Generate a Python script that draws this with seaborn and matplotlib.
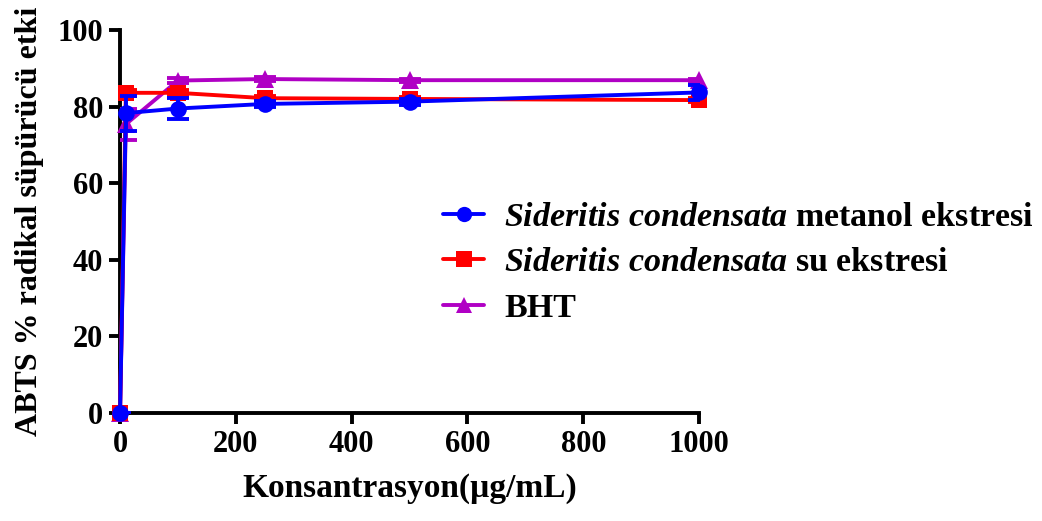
import matplotlib
matplotlib.use("Agg")
import matplotlib.pyplot as plt
import seaborn as sns
import pandas as pd
from matplotlib.lines import Line2D

# Concentrations (µg/mL) and ABTS scavenging (%) with error bars
konsantrasyon = [0, 10, 100, 250, 500, 1000]
metanol = [0, 78.3, 79.5, 80.7, 81.3, 83.7]
metanol_err = [0, 4.6, 2.8, 0.8, 0.8, 2.0]
su = [0, 83.6, 83.6, 82.2, 82.0, 81.7]
su_err = [0, 0.8, 0.8, 0.6, 0.5, 0.6]
bht = [0, 75.4, 86.8, 87.2, 86.9, 86.9]
bht_err = [0, 4.0, 0.6, 0.5, 0.4, 0.4]

labels = [r"$\mathit{Sideritis\ condensata}$ metanol ekstresi",
          r"$\mathit{Sideritis\ condensata}$ su ekstresi",
          "BHT"]
colors = ["#0000FF", "#FF0000", "#B000C4"]
markers = ["o", "s", "^"]
x_ticks = [0, 200, 400, 600, 800, 1000]
y_ticks = [0, 20, 40, 60, 80, 100]

sns.set_style("ticks")
plt.rcParams["font.family"] = ["Liberation Serif", "DejaVu Serif"]
plt.rcParams["font.weight"] = "bold"
plt.rcParams["text.color"] = "black"
plt.rcParams["axes.labelcolor"] = "black"
plt.rcParams["xtick.color"] = "black"
plt.rcParams["ytick.color"] = "black"
plt.rcParams["axes.edgecolor"] = "black"
plt.rcParams["mathtext.fontset"] = "custom"
plt.rcParams["mathtext.it"] = "Liberation Serif:italic:bold"
plt.rcParams["mathtext.rm"] = "Liberation Serif:bold"

fig = plt.figure(figsize=(10.42, 5.21), dpi=100)
ax = fig.add_axes([0.1152, 0.2073, 0.5557, 0.7351])

series = [(metanol, metanol_err), (su, su_err), (bht, bht_err)]
frames = []
for lab, (vals, errs) in zip(labels, series):
    frames.append(pd.DataFrame({"x": konsantrasyon, "y": vals, "err": errs, "seri": lab}))
df = pd.concat(frames, ignore_index=True)

# draw BHT first, then water, then methanol on top
for idx in [2, 1, 0]:
    sub = df[df["seri"] == labels[idx]]
    ax.errorbar(sub["x"], sub["y"], yerr=sub["err"], fmt="none",
                ecolor=colors[idx], elinewidth=2.8, capsize=8, capthick=2.8,
                zorder=3 + (2 - idx))
    sns.lineplot(data=sub, x="x", y="y", ax=ax, color=colors[idx],
                 marker=markers[idx], markersize=12 if idx != 2 else 13,
                 markeredgewidth=0, linewidth=2.8, legend=False,
                 zorder=3 + (2 - idx), clip_on=False)

ax.set_xlim(0, 1000)
ax.set_ylim(0, 100)
ax.set_xticks(x_ticks)
ax.set_yticks(y_ticks)
ax.tick_params(axis="both", direction="out", length=8, width=2.8,
               labelsize=22, pad=4, colors="black")
for t in ax.get_xticklabels() + ax.get_yticklabels():
    t.set_fontweight("bold")
for side in ["top", "right"]:
    ax.spines[side].set_visible(False)
for side in ["left", "bottom"]:
    ax.spines[side].set_linewidth(2.8)
    ax.spines[side].set_color("black")

ax.set_xlabel("Konsantrasyon(µg/mL)", fontsize=24, fontweight="bold", labelpad=10)
ax.set_ylabel("ABTS % radikal süpürücü etki", fontsize=23, fontweight="bold", labelpad=10)

handles = [Line2D([], [], color=c, marker=m, markersize=11, linewidth=2.8,
                  markeredgewidth=0) for c, m in zip(colors, markers)]
ax.legend(handles, labels, loc="center left", bbox_to_anchor=(0.558, 0.392),
          frameon=False, fontsize=24.5, handlelength=1.2, handletextpad=0.6,
          labelspacing=0.42, borderpad=0, borderaxespad=0)

fig.savefig("out.png", dpi=100)
